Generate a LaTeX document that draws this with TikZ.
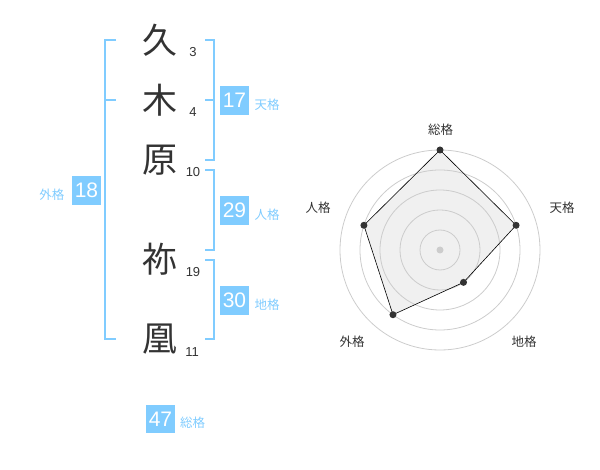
\documentclass[tikz,border=0pt]{standalone}
\usepackage{fontspec}
\setmainfont{Liberation Sans}
\newfontfamily\jpfont{Noto Sans CJK JP}
\usetikzlibrary{positioning,calc}
\definecolor{kaku}{RGB}{128,204,255}
\definecolor{ink}{RGB}{51,51,51}
\definecolor{ring}{RGB}{204,204,204}
\definecolor{area}{RGB}{240,240,240}
\tikzset{
  kanji/.style={font=\jpfont\fontsize{35}{35}\selectfont, text=ink, inner sep=0pt},
  strokes/.style={font=\fontsize{13}{13}\selectfont, text=ink, inner sep=0pt},
  kakubox/.style={fill=kaku, text=white, minimum size=28.5pt, inner sep=0pt, font=\fontsize{21}{21}\selectfont},
  kakulabel/.style={text=kaku, inner sep=0pt, yshift=-4pt, font=\jpfont\fontsize{12.5}{12.5}\selectfont},
  bracket/.style={draw=kaku, line width=1.8pt},
  axislabel/.style={text=ink, inner sep=0pt, font=\jpfont\fontsize{12.5}{12.5}\selectfont},
  dot/.style={circle, fill=ink, minimum size=7pt, inner sep=0pt},
}

\begin{document}
\begin{tikzpicture}[x=1pt, y=-1pt]
  \useasboundingbox (0,0) rectangle (600,470);

  % name
  \node[kanji] (k1) at (160,40) {久};
  \node[kanji] (k2) at (160,100) {木};
  \node[kanji] (k3) at (160,160) {原};
  \node[kanji] (k4) at (160,259) {祢};
  \node[kanji] (k5) at (160,339) {凰};

  \node[strokes] (s1) at (193,52) {3};
  \node[strokes] (s2) at (193,112) {4};
  \node[strokes] (s3) at (193,172) {10};
  \node[strokes] (s4) at (193,272) {19};
  \node[strokes] (s5) at (192,352) {11};

  % brackets
  \draw[bracket] (116,40) -- (105,40) -- (105,339) -- (116,339);
  \draw[bracket] (105,100) -- (116,100);
  \draw[bracket] (205,40) -- (214,40) -- (214,160) -- (205,160);
  \draw[bracket] (205,100) -- (214,100);
  \draw[bracket] (205,170) -- (214,170) -- (214,250) -- (205,250);
  \draw[bracket] (205,260) -- (214,260) -- (214,339) -- (205,339);

  % kaku values
  \node[kakubox] (ten) at (234.5,100.5) {17};
  \node[kakulabel, right=5.5pt of ten] (tenl) {天格};
  \node[kakubox] (jin) at (234.5,210.5) {29};
  \node[kakulabel, right=5.5pt of jin] (jinl) {人格};
  \node[kakubox] (chi) at (234.5,300.5) {30};
  \node[kakulabel, right=5.5pt of chi] (chil) {地格};
  \node[kakubox] (gai) at (86.5,190.5) {18};
  \node[kakulabel, left=7.5pt of gai] (gail) {外格};
  \node[kakubox] (sou) at (160.5,419) {47};
  \node[kakulabel, right=5pt of sou] (soul) {総格};

  % radar
  \coordinate (cen) at (440,250);
  \coordinate (psou) at ([shift={(-90:100)}]cen);
  \coordinate (pten) at ([shift={(-18:80)}]cen);
  \coordinate (pchi) at ([shift={(54:40)}]cen);
  \coordinate (pgai) at ([shift={(126:80)}]cen);
  \coordinate (pjin) at ([shift={(198:80)}]cen);
  \fill[area] (psou) -- (pten) -- (pchi) -- (pgai) -- (pjin) -- cycle;
  \foreach \r in {20,40,60,80,100}
    \draw[ring, line width=0.8pt] (cen) circle[radius=\r pt];
  \draw[black, line width=0.6pt] (psou) -- (pten) -- (pchi) -- (pgai) -- (pjin) -- cycle;
  \node[dot, fill=ring] (c0) at (cen) {};
  \foreach \p in {psou,pten,pchi,pgai,pjin}
    \node[dot] at (\p) {};

  \node[axislabel] (asou) at (440.5,130) {総格};
  \node[axislabel] (aten) at (562,208) {天格};
  \node[axislabel] (achi) at (524,342) {地格};
  \node[axislabel] (agai) at (352,342) {外格};
  \node[axislabel] (ajin) at (318,208) {人格};
\end{tikzpicture}
\end{document}
